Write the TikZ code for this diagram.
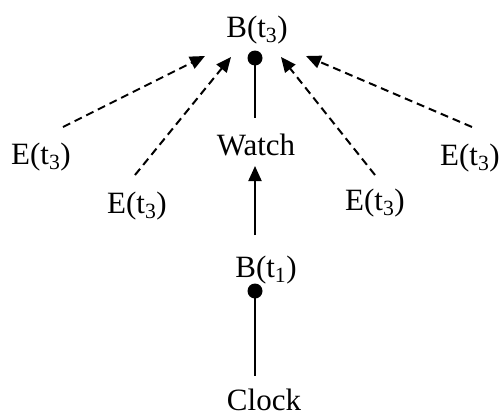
\documentclass[tikz,border=0pt]{standalone}
\usepackage{fontspec}
\setmainfont{Liberation Serif}
\usetikzlibrary{arrows.meta}
\begin{document}
\begin{tikzpicture}[x=1pt,y=-1pt,
  lbl/.style={inner sep=0pt,anchor=base,font=\fontsize{31}{37}\selectfont},
  dotnode/.style={circle,fill=black,inner sep=0pt,minimum size=15pt},
  solidline/.style={line width=2pt},
  dasharrow/.style={line width=2pt,dash pattern=on 8pt off 5pt,-{Triangle[length=15pt,width=13pt]}},
  solidarrow/.style={line width=2pt,-{Triangle[length=15pt,width=13pt]}}]
\path[use as bounding box] (0,0) rectangle (501,418);
% labels
\node[lbl] (B3) at (257,37) {B(t\textsubscript{3})};
\node[lbl] (W) at (256,155) {Watch};
\node[lbl] (B1) at (266,277) {B(t\textsubscript{1})};
\node[lbl] (C) at (264,410) {Clock};
\node[lbl] (E1) at (41,164) {E(t\textsubscript{3})};
\node[lbl] (E2) at (137,213) {E(t\textsubscript{3})};
\node[lbl] (E3) at (375,210) {E(t\textsubscript{3})};
\node[lbl] (E4) at (470,165) {E(t\textsubscript{3})};
% dots
\node[dotnode] (d3) at (255,58) {};
\node[dotnode] (d1) at (255,291) {};
% coordinates
\coordinate (d3end) at (255,118);
\coordinate (d1end) at (255,376);
\coordinate (wtip) at (255,166);
\coordinate (wbase) at (255,235);
\coordinate (s1) at (63,127);
\coordinate (s2) at (135,175);
\coordinate (s3) at (375,175);
\coordinate (s4) at (472,127);
\coordinate (t1) at (205,56);
\coordinate (t2) at (231,57);
\coordinate (t3) at (281,57);
\coordinate (t4) at (306,56);
% connectors
\draw[solidline] (d3.center) -- (d3end);
\draw[solidline] (d1.center) -- (d1end);
\draw[solidarrow] (wbase) -- (wtip);
\draw[dasharrow] (s1) -- (t1);
\draw[dasharrow] (s2) -- (t2);
\draw[dasharrow] (s3) -- (t3);
\draw[dasharrow] (s4) -- (t4);
\end{tikzpicture}
\end{document}
